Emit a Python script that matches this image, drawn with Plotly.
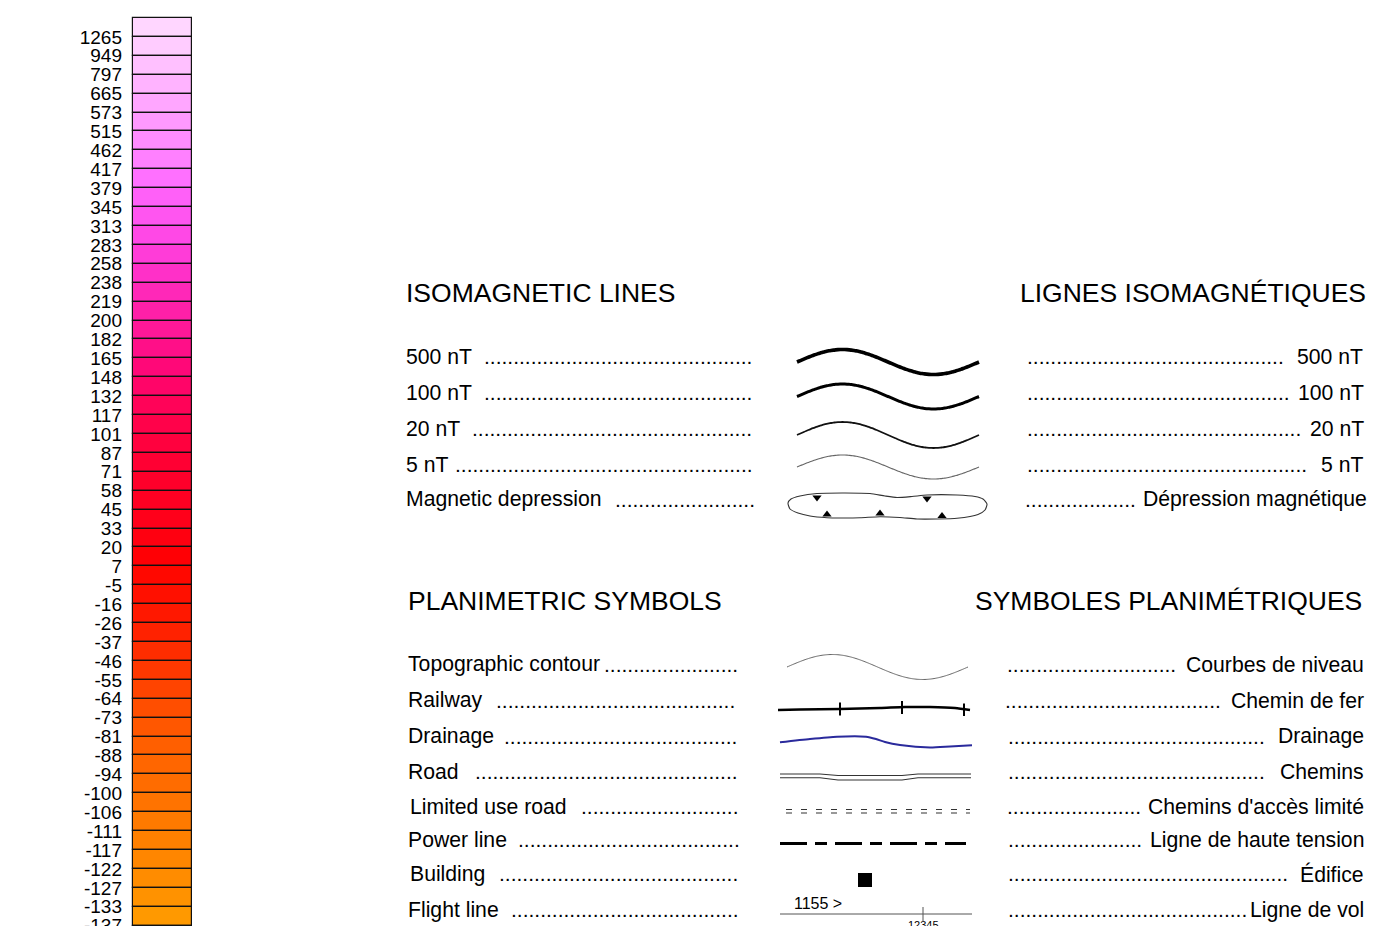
import math
import plotly.graph_objects as go

W, H = 1389, 926
FONT = "Liberation Sans, Arial, sans-serif"

# ---------------- data: colour scale ----------------
level_labels = ["1265", "949", "797", "665", "573", "515", "462", "417", "379", "345",
                "313", "283", "258", "238", "219", "200", "182", "165", "148", "132",
                "117", "101", "87", "71", "58", "45", "33", "20", "7", "-5",
                "-16", "-26", "-37", "-46", "-55", "-64", "-73", "-81", "-88", "-94",
                "-100", "-106", "-111", "-117", "-122", "-127", "-133", "-137"]

cell_colors = ["#FFD6FF", "#FFCCFF", "#FFC0FF", "#FFB3FF", "#FFA6FF", "#FF99FF", "#FF8CFF",
               "#FF80FF", "#FF70FF", "#FF60F8", "#FF55F0", "#FF48E6", "#FF3CD8", "#FF30C8",
               "#FF28B8", "#FF20A8", "#FF1898", "#FF0F88", "#FF0878", "#FF0568", "#FF0358",
               "#FF024A", "#FF013E", "#FF0033", "#FF002A", "#FF0022", "#FF001A", "#FF0010",
               "#FF0005", "#FF0800", "#FF1000", "#FF1800", "#FF2200", "#FF2D00", "#FF3800",
               "#FF4400", "#FF4E00", "#FF5700", "#FF5F00", "#FF6600", "#FF6C00", "#FF7300",
               "#FF7A00", "#FF8000", "#FF8600", "#FF8C00", "#FF9200", "#FF9900", "#FFA000"]

# ---------------- data: legend texts ----------------
iso_title_left = "ISOMAGNETIC LINES"
iso_title_right = "LIGNES ISOMAGNÉTIQUES"
iso_left = ["500 nT", "100 nT", "20 nT", "5 nT", "Magnetic depression"]
iso_right = ["500 nT", "100 nT", "20 nT", "5 nT", "Dépression magnétique"]

plan_title_left = "PLANIMETRIC SYMBOLS"
plan_title_right = "SYMBOLES PLANIMÉTRIQUES"
plan_left = ["Topographic contour", "Railway", "Drainage", "Road", "Limited use road",
             "Power line", "Building", "Flight line"]
plan_right = ["Courbes de niveau", "Chemin de fer", "Drainage", "Chemins",
              "Chemins d'accès limité", "Ligne de haute tension", "Édifice", "Ligne de vol"]

flight_label = "1155 >"
fiducial_label = "12345"

# ---------------- layout (pixel positions) ----------------
iso_rows_y = [356, 392, 428, 464, 499]
iso_left_x = 406
iso_left_lead = [(484, 754), (484, 754), (472, 754), (455, 754), (615, 754)]
iso_right_lead = [(1027, 1285), (1027, 1291), (1027, 1303), (1027, 1308), (1025, 1134)]
iso_right_x = [1363, 1364, 1364, 1363, 1367]

plan_rows_y = [664, 700, 736, 771, 806.5, 839.5, 873.5, 909.5]
plan_left_x = [408, 408, 408, 408, 410, 408, 410, 408]
plan_left_lead = [(604, 738), (496, 737), (504, 738), (475, 738), (581, 738), (518, 739),
                  (499, 738), (511, 738)]
plan_right_lead = [(1007, 1175), (1005, 1221), (1008, 1265), (1008, 1266), (1007, 1139),
                   (1008, 1142), (1008, 1289), (1008, 1247)]
plan_right_x = 1364

fig = go.Figure()

# ---------------- colour bar (own axes) ----------------
n = len(cell_colors)
fig.add_trace(go.Bar(
    x=[0] * n, y=[1] * n, base=list(range(n)), width=1,
    marker=dict(color=cell_colors, line=dict(color="#111", width=1.2)),
    xaxis="x2", yaxis="y2", showlegend=False, hoverinfo="skip"))

cell_px = 18.91
top_px = 18.0
y2_range = [(H - top_px) / cell_px, -top_px / cell_px]
bx0, bx1 = 133, 192
dom_w = 63
half = 0.5 * dom_w / (bx1 - bx0)

# ---------------- symbol drawing helpers ----------------
def add_line(xs, ys, color="black", width=1.0, dash="solid"):
    fig.add_trace(go.Scatter(x=xs, y=ys, mode="lines",
                             line=dict(color=color, width=width, dash=dash, shape="spline", smoothing=0.6),
                             showlegend=False, hoverinfo="skip"))

def wave(x0, x1, c, a, m=80):
    xs = [x0 + (x1 - x0) * i / m for i in range(m + 1)]
    ys = [c - a * math.sin(2 * math.pi * (x - x0) / (x1 - x0)) for x in xs]
    return xs, ys

# isomagnetic waves
for c, a, w, col in [(362, 12.5, 3.6, "#000"), (396.5, 12.5, 3.0, "#000"),
                     (435, 13, 1.8, "#111"), (467, 12, 1.1, "#666")]:
    xs, ys = wave(797, 979, c, a)
    add_line(xs, ys, col, w)

# magnetic depression loop
loop = [(788, 503), (791, 499), (800, 496), (817, 493.5), (845, 493), (870, 493.5),
        (885, 496), (897, 497.5), (912, 496.5), (927, 495), (957, 495), (975, 496.5),
        (983, 499), (987, 504), (985, 510), (978, 514.5), (957, 518.3), (937, 519),
        (917, 519), (900, 517.5), (880, 516.7), (860, 517.8), (840, 518), (827, 517.7),
        (810, 516), (798, 513), (790, 509), (788, 503)]
add_line([p[0] for p in loop], [p[1] for p in loop], "#333", 1.1)
fig.add_trace(go.Scatter(x=[817, 927], y=[497.5, 498.5], mode="markers",
                         marker=dict(symbol="triangle-down", size=8, color="black"),
                         showlegend=False, hoverinfo="skip"))
fig.add_trace(go.Scatter(x=[827, 880, 942], y=[514.5, 513.5, 516], mode="markers",
                         marker=dict(symbol="triangle-up", size=8, color="black"),
                         showlegend=False, hoverinfo="skip"))

# topographic contour
xs, ys = wave(787, 968, 667, 12.5)
add_line(xs, ys, "#666", 1.0)

# railway
rail = [(778, 710), (800, 709.5), (840, 709), (880, 708), (905, 707), (930, 707),
        (955, 708), (970, 710)]
add_line([p[0] for p in rail], [p[1] for p in rail], "#000", 2.5)
for tx, t0, t1 in [(840, 702.5, 715.5), (902, 701, 714), (964, 703.5, 716)]:
    fig.add_trace(go.Scatter(x=[tx, tx], y=[t0, t1], mode="lines",
                             line=dict(color="#000", width=2), showlegend=False, hoverinfo="skip"))

# drainage
drain = [(780, 742.3), (810, 739), (837, 736.7), (866, 736.7), (876, 739), (885, 742),
         (900, 745), (930, 747.5), (950, 746.5), (972, 745.3)]
add_line([p[0] for p in drain], [p[1] for p in drain], "#2A2A9C", 2.0)

# road (double line)
road_a = [(780, 774), (820, 774), (838, 775.5), (902, 775.5), (918, 774), (971, 774)]
road_b = [(780, 777.8), (820, 777.8), (838, 780), (902, 780), (918, 777.8), (971, 777.8)]
for r in (road_a, road_b):
    fig.add_trace(go.Scatter(x=[p[0] for p in r], y=[p[1] for p in r], mode="lines",
                             line=dict(color="#333", width=1.1), showlegend=False, hoverinfo="skip"))

# limited use road
for yy in (809.5, 813):
    fig.add_trace(go.Scatter(x=[786, 970], y=[yy, yy], mode="lines",
                             line=dict(color="#333", width=1.1, dash="6px,9px"),
                             showlegend=False, hoverinfo="skip"))

# power line
fig.add_trace(go.Scatter(x=[780, 966], y=[843.5, 843.5], mode="lines",
                         line=dict(color="#000", width=3, dash="27px,8px,12px,8px"),
                         showlegend=False, hoverinfo="skip"))

# building
fig.add_trace(go.Scatter(x=[865], y=[880], mode="markers",
                         marker=dict(symbol="square", size=14, color="black"),
                         showlegend=False, hoverinfo="skip"))

# flight line
fig.add_trace(go.Scatter(x=[780, 972], y=[914, 914], mode="lines",
                         line=dict(color="#555", width=1), showlegend=False, hoverinfo="skip"))
fig.add_trace(go.Scatter(x=[923, 923], y=[907, 921], mode="lines",
                         line=dict(color="#555", width=1), showlegend=False, hoverinfo="skip"))

# ---------------- texts ----------------
ann = []
PAD = 1

def txt(x, y, s, size=21.2, anchor="left", color="#000"):
    dx = -PAD if anchor == "left" else (PAD if anchor == "right" else 0)
    ann.append(dict(x=x + dx, y=y, xref="x", yref="y", text=s, showarrow=False,
                    xanchor=anchor, yanchor="middle", borderpad=0,
                    font=dict(family=FONT, size=size, color=color)))

LEAD_FS = 21
dot_w = 0.2779 * LEAD_FS

def leader(x0, x1, y):
    k = max(1, int(round((x1 - x0) / dot_w)))
    txt(x0, y, "." * k, size=LEAD_FS, anchor="left")

TFS = 26.5
txt(iso_left_x, 293, iso_title_left, TFS, "left")
txt(1366, 293, iso_title_right, TFS, "right")
for i, y in enumerate(iso_rows_y):
    txt(iso_left_x, y, iso_left[i])
    leader(*iso_left_lead[i], y)
    leader(*iso_right_lead[i], y)
    txt(iso_right_x[i], y, iso_right[i], anchor="right")

txt(408, 601, plan_title_left, TFS, "left")
txt(1362, 601, plan_title_right, TFS, "right")
for i, y in enumerate(plan_rows_y):
    txt(plan_left_x[i], y, plan_left[i])
    leader(*plan_left_lead[i], y)
    leader(*plan_right_lead[i], y)
    txt(plan_right_x, y, plan_right[i], anchor="right")

txt(794, 903, flight_label, 16, "left")
txt(923, 925, fiducial_label, 11, "center")

fig.update_layout(
    width=W, height=H, margin=dict(l=0, r=0, t=0, b=0, autoexpand=False),
    paper_bgcolor="white", plot_bgcolor="rgba(0,0,0,0)",
    barmode="overlay", bargap=0,
    xaxis=dict(range=[0, W], domain=[0, 1], visible=False, fixedrange=True, automargin=False),
    yaxis=dict(range=[H, 0], domain=[0, 1], visible=False, fixedrange=True, automargin=False),
    xaxis2=dict(domain=[(bx0 - (dom_w - (bx1 - bx0)) / 2) / W, (bx1 + (dom_w - (bx1 - bx0)) / 2) / W],
                range=[-half, half], anchor="y2", showgrid=False, zeroline=False,
                showticklabels=False, showline=False, fixedrange=True, automargin=False),
    yaxis2=dict(domain=[0, 1], range=y2_range, anchor="x2", showgrid=False, zeroline=False,
                showline=False, tickmode="array", automargin=False,
                tickvals=list(range(1, len(level_labels) + 1)), ticktext=level_labels,
                ticks="", ticklabelstandoff=8, ticklabeloverflow="allow",
                tickfont=dict(family=FONT, size=19, color="#000"), fixedrange=True),
    annotations=ann,
    showlegend=False,
)

fig.write_html("out.html", config={"displayModeBar": False})
